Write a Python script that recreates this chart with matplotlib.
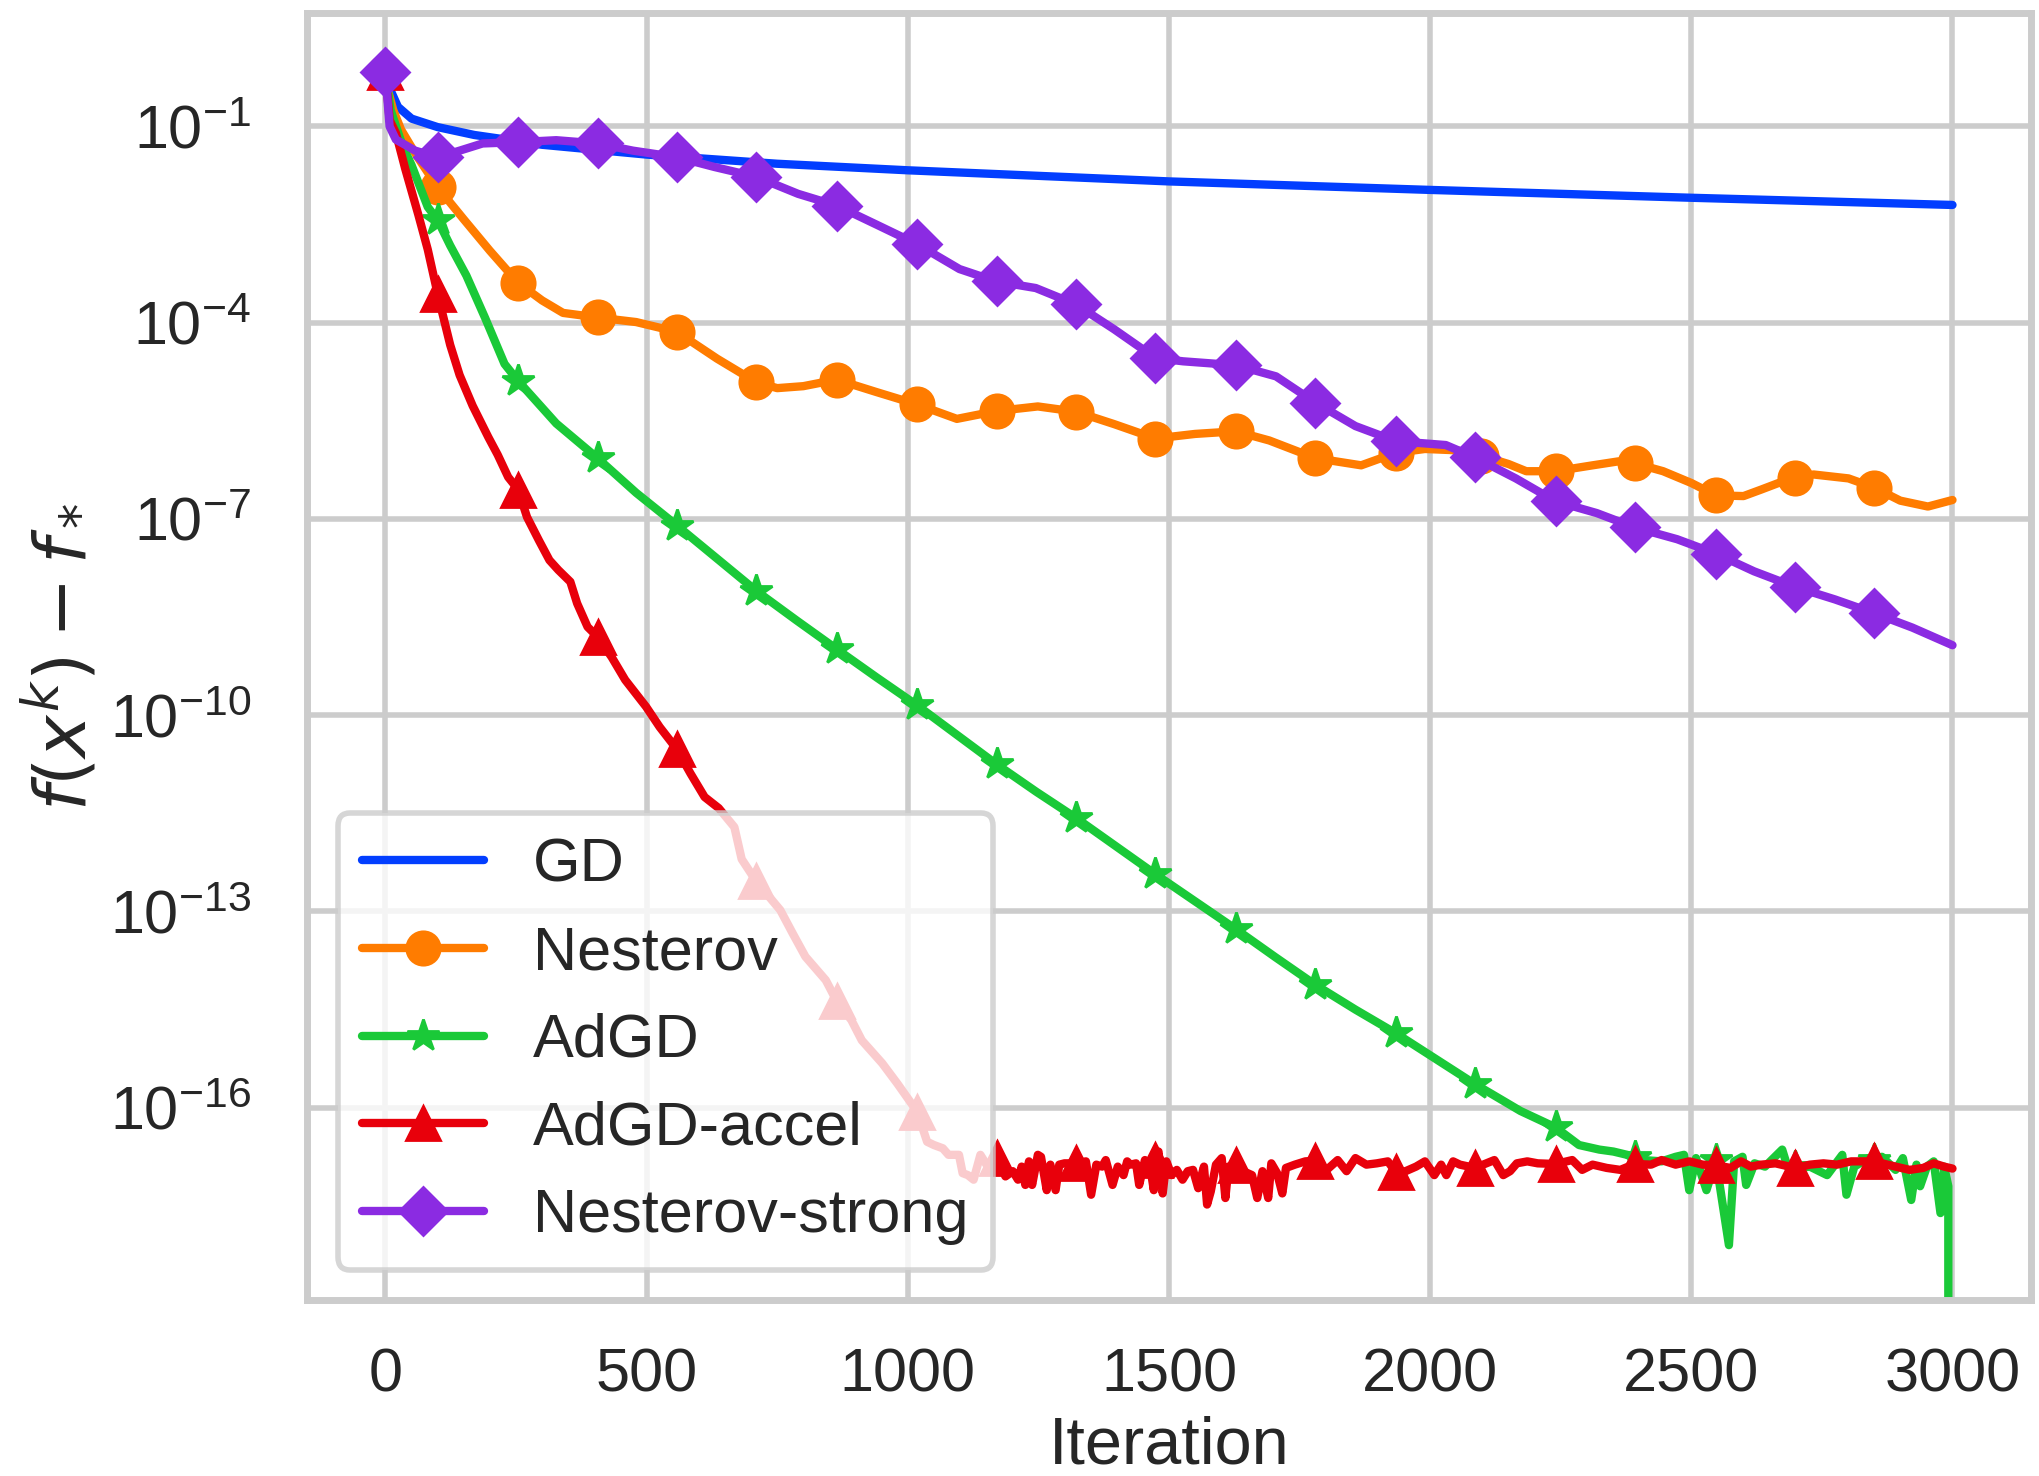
import numpy as np
import matplotlib
matplotlib.use("Agg")
import matplotlib.pyplot as plt
import seaborn as sns

sns.set_theme(context="poster", style="whitegrid")
plt.rcParams["font.family"] = ["Liberation Sans", "DejaVu Sans"]
plt.rcParams["mathtext.fontset"] = "dejavusans"

# values are log10(f(x^k) - f_*)
gd_it = [0, 3, 10, 24, 50, 100, 170, 300, 500, 750, 1000, 1500, 2000, 2500, 3000]
gd_lg = [-0.17, -0.30, -0.45, -0.70, -0.88, -1.01, -1.13, -1.28, -1.43, -1.57, -1.67,
         -1.84, -1.97, -2.09, -2.20]

nest_it = [0, 5, 15, 30, 60, 100, 150, 200, 254, 300, 340, 406, 480, 558, 635, 710, 750,
           800, 864, 940, 1018, 1094, 1170, 1249, 1322, 1395, 1474, 1550, 1628, 1692, 1780,
           1868, 1934, 1990, 2050, 2097, 2150, 2184, 2240, 2311, 2360, 2392, 2446, 2500,
           2547, 2600, 2634, 2667, 2699, 2734, 2801, 2850, 2900, 2953, 3000]
nest_lg = [-0.17, -0.45, -0.75, -1.05, -1.45, -1.93, -2.42, -2.90, -3.39, -3.66, -3.85,
           -3.92, -3.99, -4.14, -4.55, -4.91, -5.00, -4.97, -4.87, -5.06, -5.25, -5.47,
           -5.35, -5.28, -5.36, -5.55, -5.77, -5.70, -5.66, -5.80, -6.07, -6.18, -5.99,
           -5.93, -5.95, -6.03, -6.16, -6.27, -6.27, -6.18, -6.12, -6.15, -6.27, -6.45,
           -6.64, -6.65, -6.55, -6.45, -6.38, -6.32, -6.38, -6.52, -6.72, -6.81, -6.71]

adgd_it = [0, 10, 33, 50, 81, 100, 124, 155, 191, 228, 254, 327, 406, 480, 558, 634, 710,
           787, 864, 940, 1018, 1094, 1170, 1246, 1322, 1398, 1474, 1551, 1628, 1704, 1780,
           1857, 1934, 2010, 2086, 2120, 2173, 2240, 2285, 2324, 2351, 2377, 2392, 2410,
           2443, 2470, 2486, 2496, 2509, 2529, 2547, 2572, 2582, 2598, 2605, 2621, 2641,
           2674, 2684, 2699, 2707, 2727, 2760, 2789, 2797, 2812, 2839, 2850, 2865, 2891,
           2905, 2921, 2931, 2938, 2951, 2964, 2977, 2984, 2992]
adgd_lg = [-0.17, -0.75, -1.30, -1.59, -2.23, -2.43, -2.82, -3.28, -3.93, -4.63, -4.89,
           -5.54, -6.07, -6.60, -7.10, -7.60, -8.10, -8.55, -8.99, -9.42, -9.85, -10.30,
           -10.75, -11.17, -11.57, -12.00, -12.43, -12.85, -13.27, -13.70, -14.12, -14.50,
           -14.86, -15.25, -15.64, -15.80, -16.05, -16.30, -16.57, -16.64, -16.67, -16.72,
           -16.76, -16.80, -16.82, -16.75, -16.72, -17.26, -16.77, -17.26, -16.80, -18.10,
           -16.82, -16.75, -17.18, -16.85, -16.90, -16.64, -16.90, -16.90, -16.92, -16.90,
           -17.03, -16.72, -17.33, -16.90, -16.77, -16.80, -16.75, -16.95, -16.77, -17.41,
           -16.87, -17.20, -16.90, -16.82, -17.61, -16.90, -17.20]
adgd_last_it = 3000
adgd_last_val = 0.0  # hits zero at the end

accel_it = [0, 8, 20, 38, 63, 81, 100, 124, 142, 167, 197, 215, 235, 254, 271, 294, 314,
            331, 354, 367, 387, 406, 433, 459, 499, 525, 558, 584, 611, 638, 668, 682, 710,
            756, 780, 804, 843, 864, 892, 912, 951, 980, 1018, 1037, 1050, 1067, 1078, 1098,
            1105, 1115, 1126, 1139, 1153, 1170, 1187, 1201, 1211, 1218, 1225, 1232, 1238,
            1249, 1255, 1266, 1273, 1283, 1290, 1300, 1322, 1341, 1351, 1361, 1372, 1379,
            1392, 1402, 1413, 1420, 1426, 1437, 1443, 1454, 1464, 1471, 1474, 1480, 1488,
            1495, 1505, 1515, 1526, 1536, 1546, 1556, 1567, 1573, 1580, 1590, 1601, 1608,
            1614, 1628, 1642, 1659, 1669, 1679, 1690, 1696, 1707, 1717, 1724, 1741, 1761,
            1780, 1802, 1823, 1840, 1857, 1878, 1898, 1919, 1934, 1953, 1973, 1990, 2008,
            2021, 2031, 2044, 2057, 2086, 2123, 2140, 2153, 2166, 2186, 2206, 2240, 2272,
            2291, 2311, 2338, 2364, 2392, 2423, 2443, 2470, 2496, 2522, 2547, 2575, 2595,
            2614, 2634, 2661, 2699, 2727, 2753, 2779, 2806, 2850, 2891, 2918, 2944, 2964,
            2984, 3000]
accel_lg = [-0.17, -0.90, -1.10, -1.65, -2.35, -2.88, -3.56, -4.34, -4.80, -5.27, -5.75,
            -6.02, -6.36, -6.55, -6.97, -7.33, -7.63, -7.78, -7.96, -8.29, -8.65, -8.80,
            -9.11, -9.46, -9.87, -10.18, -10.52, -10.89, -11.25, -11.42, -11.71, -12.20,
            -12.54, -12.98, -13.34, -13.69, -14.05, -14.37, -14.66, -14.97, -15.32, -15.63,
            -16.06, -16.52, -16.57, -16.62, -16.72, -16.72, -17.00, -17.03, -17.10, -16.72,
            -16.90, -16.77, -17.05, -16.97, -17.10, -16.90, -17.18, -16.82, -17.18, -16.72,
            -16.75, -17.26, -16.87, -17.26, -16.87, -16.85, -16.85, -16.82, -17.33, -16.87,
            -16.90, -16.80, -17.18, -16.90, -17.03, -16.82, -16.87, -16.85, -17.18, -16.80,
            -16.90, -17.26, -16.80, -16.67, -17.31, -16.82, -17.03, -16.95, -17.10, -16.97,
            -16.95, -17.23, -16.90, -17.48, -17.28, -16.87, -16.77, -17.38, -16.90, -16.88,
            -16.97, -17.03, -17.38, -16.97, -17.38, -16.85, -17.00, -17.31, -16.92, -16.87,
            -16.82, -16.81, -16.95, -16.80, -16.97, -16.77, -16.87, -16.85, -16.82, -16.98,
            -16.97, -16.90, -16.82, -17.03, -16.87, -17.03, -16.82, -16.87, -16.92, -16.80,
            -17.03, -16.97, -16.85, -16.82, -16.85, -16.86, -16.80, -16.95, -16.87, -16.92,
            -16.95, -16.86, -16.87, -16.80, -16.87, -16.82, -16.87, -16.88, -16.92, -16.82,
            -16.90, -16.87, -16.85, -16.92, -16.87, -16.85, -16.87, -16.82, -16.82, -16.90,
            -16.95, -16.92, -16.85, -16.90, -16.93]

strong_it = [0, 4, 8, 20, 57, 100, 142, 186, 254, 327, 406, 474, 558, 630, 710, 790, 864,
             940, 1018, 1099, 1170, 1245, 1322, 1395, 1474, 1527, 1628, 1705, 1780, 1857,
             1934, 2030, 2086, 2164, 2240, 2319, 2392, 2473, 2547, 2620, 2699, 2775, 2850,
             2923, 3000]
strong_lg = [-0.17, -0.60, -1.00, -1.20, -1.37, -1.47, -1.37, -1.26, -1.24, -1.21, -1.26,
             -1.37, -1.47, -1.62, -1.77, -2.03, -2.21, -2.50, -2.80, -3.18, -3.37, -3.47,
             -3.72, -4.10, -4.54, -4.59, -4.65, -4.82, -5.22, -5.58, -5.81, -5.87, -6.06,
             -6.38, -6.73, -6.91, -7.13, -7.31, -7.53, -7.80, -8.04, -8.23, -8.44, -8.66,
             -8.93]

mark_iters = [0, 100, 254, 406, 558, 710, 864, 1018, 1170, 1322, 1474, 1628, 1780, 1934,
              2086, 2240, 2392, 2547, 2699, 2850]
ytick_vals = [1e-1, 1e-4, 1e-7, 1e-10, 1e-13, 1e-16]

colors = ["#023EFF", "#FF7C00", "#1AC938", "#E8000B", "#8B2BE2"]


def marks(it):
    it = np.asarray(it)
    return [int(np.argmin(np.abs(it - m))) for m in mark_iters]


adgd_x = np.append(adgd_it, adgd_last_it)
adgd_y = np.append(10.0 ** np.array(adgd_lg), adgd_last_val)

fig = plt.figure(figsize=(10.195, 7.38), dpi=200)
ax = fig.add_subplot(111)
fig.subplots_adjust(left=0.1506, right=0.996, top=0.991, bottom=0.1192)

ax.plot(gd_it, 10.0 ** np.array(gd_lg), color=colors[0], label="GD")
ax.plot(nest_it, 10.0 ** np.array(nest_lg), color=colors[1], marker="o",
        markevery=marks(nest_it), label="Nesterov")
ax.plot(adgd_x, adgd_y, color=colors[2], marker="*",
        markevery=marks(adgd_x), label="AdGD")
ax.plot(accel_it, 10.0 ** np.array(accel_lg), color=colors[3], marker="^",
        markevery=marks(accel_it), label="AdGD-accel")
ax.plot(strong_it, 10.0 ** np.array(strong_lg), color=colors[4], marker="D",
        markevery=marks(strong_it), label="Nesterov-strong")

ax.set_yscale("log")
ax.set_ylim(10 ** -18.94, 10 ** 0.73)
ax.set_yticks(ytick_vals)
ax.yaxis.set_minor_locator(matplotlib.ticker.NullLocator())
ax.tick_params(axis="y", pad=plt.rcParams["ytick.major.pad"] + 4.5)
ax.tick_params(axis="x", pad=plt.rcParams["xtick.major.pad"] + 1.5)
ax.set_xlabel("Iteration")
ax.set_ylabel(r"$f(x^k) - f_*$", fontsize=26)
ax.legend(loc="lower left")

plt.savefig("out.png", dpi=200)
